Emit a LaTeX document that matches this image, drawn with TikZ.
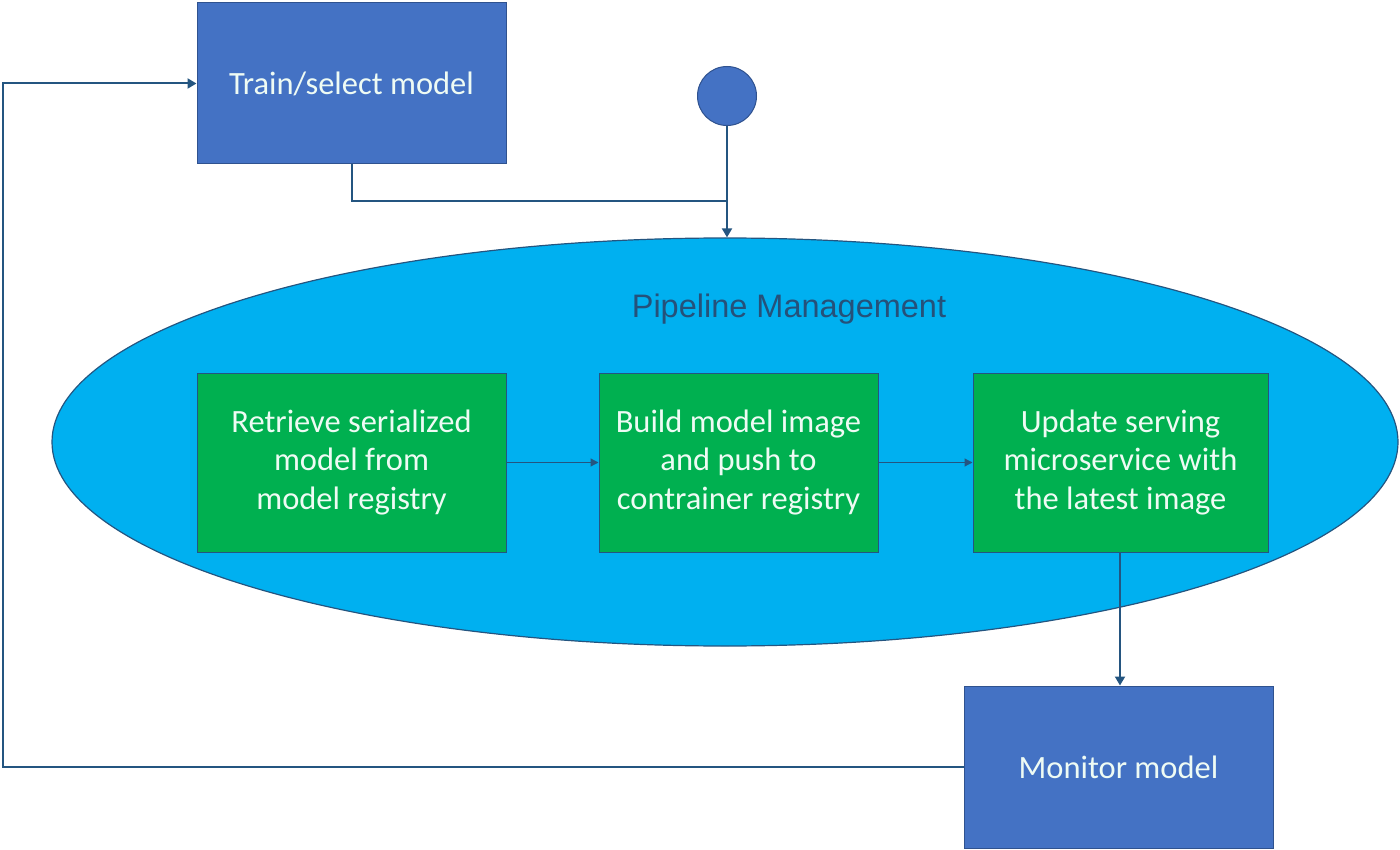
\documentclass[tikz,border=0pt]{standalone}
\usepackage{fontspec}
\setmainfont{Carlito}
\newfontfamily\arialfont{Liberation Sans}
\usetikzlibrary{arrows.meta,shapes.geometric}
\definecolor{boxblue}{HTML}{4472C4}
\definecolor{boxedge}{HTML}{2F528F}
\definecolor{ellfill}{HTML}{00B0F0}
\definecolor{grn}{HTML}{00B050}
\definecolor{linec}{HTML}{245580}
\definecolor{titlec}{HTML}{25517A}
\definecolor{txtc}{HTML}{EEFBF4}
\tikzset{
  bluebox/.style={draw=boxedge, line width=1pt, fill=boxblue, inner sep=0pt, text=txtc, font=\fontsize{32.5}{38.5}\selectfont, align=center},
  greenbox/.style={draw=linec, line width=1pt, fill=grn, inner sep=0pt, text=txtc, font=\fontsize{32.5}{38.5}\selectfont, align=center},
  conn/.style={draw=linec, line width=2pt},
  arr/.style={conn, -{Triangle[length=9pt,width=10pt]}},
  thinarr/.style={draw=linec, line width=1.2pt, -{Triangle[length=8pt,width=8pt]}}
}
\begin{document}
\begin{tikzpicture}[x=1pt,y=-1pt]
\useasboundingbox (0,0) rectangle (1400,850);
% ellipse
\node[ellipse, draw=linec, line width=1.2pt, fill=ellfill, minimum width=1346pt, minimum height=408pt, inner sep=0pt] (pm) at (725,442) {};
\node[text=titlec, font=\arialfont\fontsize{32.5}{38}\selectfont] (pmt) at (789,309) {Pipeline Management};
% top boxes
\node[bluebox, minimum width=309pt, minimum height=161pt] (train) at (351.5,83.5) {Train/select model};
\node[circle, draw=boxedge, line width=1pt, fill=boxblue, minimum size=59pt, inner sep=0pt] (start) at (727,96) {};
% green boxes
\node[greenbox, minimum width=309pt, minimum height=179pt] (g1) at (351.5,462.5) {Retrieve serialized\\model from\\model registry};
\node[greenbox, minimum width=279pt, minimum height=179pt] (g2) at (738.5,462.5) {Build model image\\and push to\\contrainer registry};
\node[greenbox, minimum width=295pt, minimum height=179pt] (g3) at (1120.5,462.5) {Update serving\\microservice with\\the latest image};
% monitor
\node[bluebox, minimum width=309pt, minimum height=162pt] (mon) at (1118.5,767) {Monitor model};
% connectors
\coordinate (merge) at (727,201);
\draw[conn] (train.south) |- (merge);
\draw[arr] (start.south) -- (start.south |- pm.north);
\draw[thinarr] (g1.east) -- (g2.west);
\draw[thinarr] (g2.east) -- (g3.west);
\draw[arr] (g3.south -| 1120,0) -- (mon.north -| 1120,0);
\coordinate (lb) at (3,767);
\coordinate (lt) at (3,83.5);
\draw[arr] (mon.west) -- (lb) -- (lt) -- (train.west);
\end{tikzpicture}
\end{document}
